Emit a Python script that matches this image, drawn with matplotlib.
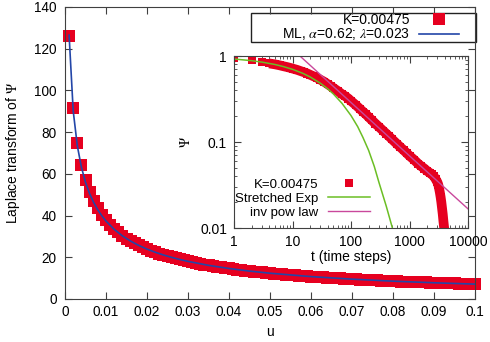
import numpy as np
import matplotlib
matplotlib.use("Agg")
import matplotlib.pyplot as plt
from matplotlib.patches import Rectangle

plt.rcParams['font.family'] = ['Liberation Sans', 'DejaVu Sans']
plt.rcParams['mathtext.fontset'] = 'stix'

# ---------------- data ----------------
# main panel: Laplace transform of Psi, K=0.00475
u = np.round(np.arange(1, 101) * 0.001, 3)
lapl = [126.3, 91.6, 75.0, 64.4, 57.2, 51.4, 47.0, 43.4, 40.4, 37.9,
        35.6, 33.6, 31.9, 30.4, 29.0, 27.8, 26.7, 25.7, 24.8, 23.9,
        23.14, 22.42, 21.74, 21.11, 20.52, 19.97, 19.44, 18.95, 18.48, 18.04,
        17.62, 17.22, 16.84, 16.48, 16.14, 15.81, 15.50, 15.19, 14.90, 14.63,
        14.36, 14.10, 13.86, 13.62, 13.39, 13.17, 12.96, 12.75, 12.56, 12.36,
        12.18, 12.00, 11.83, 11.66, 11.49, 11.33, 11.18, 11.03, 10.88, 10.74,
        10.60, 10.47, 10.34, 10.21, 10.09, 9.97, 9.85, 9.74, 9.62, 9.52,
        9.41, 9.31, 9.20, 9.10, 9.01, 8.91, 8.82, 8.73, 8.64, 8.55,
        8.47, 8.39, 8.30, 8.22, 8.15, 8.07, 7.99, 7.92, 7.85, 7.78,
        7.71, 7.64, 7.57, 7.50, 7.44, 7.38, 7.31, 7.25, 7.19, 7.13]

# Mittag-Leffler fit (alpha=0.62, lambda=0.023)
u_fit = [0.001, 0.002, 0.003, 0.004, 0.005, 0.006, 0.007, 0.008, 0.009, 0.010,
         0.012, 0.014, 0.016, 0.018, 0.020, 0.022, 0.024, 0.026, 0.028, 0.030,
         0.035, 0.040, 0.045, 0.050, 0.060, 0.070, 0.080, 0.090, 0.100]
ml_fit = [126.5, 90.2, 73.5, 63.2, 55.95, 50.5, 46.24, 42.75, 39.85, 37.38,
          33.39, 30.27, 27.76, 25.68, 23.92, 22.42, 21.11, 19.97, 18.95, 18.04,
          16.14, 14.63, 13.39, 12.36, 10.74, 9.52, 8.55, 7.78, 7.13]

# inset: survival Psi(t)
t_data = [1, 2, 3, 4, 5, 6, 7, 8, 9, 10, 12, 14, 16, 18, 20, 23, 26, 30, 35, 40,
          45, 50, 60, 70, 80, 90, 100, 120, 140, 160, 180, 200, 230, 260, 300,
          350, 400, 450, 500, 600, 700, 800, 900, 1000, 1200, 1400, 1600, 1800,
          2000, 2200, 2400, 2600, 2800, 3000, 3100, 3200, 3300, 3400, 3500,
          3600, 3700, 3800, 3900, 4000]
psi_data = [0.95, 0.89, 0.85, 0.82, 0.80, 0.78, 0.76, 0.745, 0.73, 0.715,
            0.69, 0.665, 0.645, 0.625, 0.605, 0.58, 0.56, 0.53, 0.50, 0.47,
            0.445, 0.425, 0.39, 0.36, 0.34, 0.32, 0.30, 0.27, 0.245, 0.225,
            0.21, 0.195, 0.178, 0.164, 0.15, 0.136, 0.125, 0.116, 0.108,
            0.096, 0.087, 0.080, 0.074, 0.069, 0.062, 0.056, 0.052, 0.049,
            0.046, 0.044, 0.042, 0.040, 0.037, 0.034, 0.032, 0.029, 0.026,
            0.023, 0.020, 0.017, 0.0145, 0.012, 0.0102, 0.0088]

t_sexp = [1, 2, 3, 5, 7, 10, 15, 20, 30, 40, 50, 70, 100, 130, 160, 200, 250,
          300, 400, 500, 520]
psi_sexp = [0.923, 0.882, 0.849, 0.797, 0.753, 0.700, 0.629, 0.571, 0.482,
            0.415, 0.362, 0.282, 0.203, 0.151, 0.113, 0.080, 0.052, 0.034,
            0.018, 0.0105, 0.0095]

t_pow = [13.4, 100, 1000, 10000]
psi_pow = [1.0, 0.288, 0.069, 0.0167]

red = '#E60020'
blue = '#2346A8'
green = '#6BBE24'
pink = '#C9489C'
spine_col = '#404040'

# ---------------- main panel ----------------
fig = plt.figure(figsize=(4.9, 3.42), dpi=100)
ax = fig.add_axes([65 / 490, 43 / 342, 410 / 490, 292 / 342])

ax.plot(u, lapl, 's', color=red, markersize=9.2, markeredgewidth=0,
        clip_on=False, label='K=0.00475')
ax.plot(u_fit, ml_fit, '-', color=blue, lw=1.2, clip_on=False,
        label=r'ML, $\alpha$=0.62; $\lambda$=0.023')

ax.set_xlim(0, 0.1)
ax.set_ylim(0, 140)
ax.set_xticks(np.round(np.arange(0, 0.101, 0.01), 2))
ax.set_xticklabels(['0', '0.01', '0.02', '0.03', '0.04', '0.05', '0.06',
                    '0.07', '0.08', '0.09', '0.1'])
ax.set_yticks(range(0, 141, 20))
ax.tick_params(direction='in', top=True, right=True, length=5,
               labelsize=9.8, color=spine_col)
ax.tick_params(axis='x', pad=4)
ax.tick_params(axis='y', pad=6)
for s in ax.spines.values():
    s.set_color(spine_col)
ax.set_xlabel('u', fontsize=10, labelpad=5)
ax.set_ylabel(r'Laplace transform of $\Psi$', fontsize=10, labelpad=9)

leg = ax.legend(loc='upper right', bbox_to_anchor=(0.961, 0.979),
                markerfirst=False, frameon=False, fontsize=10,
                handlelength=2.9, handletextpad=0.6, labelspacing=-0.05,
                borderpad=0, borderaxespad=0)
# gnuplot-style key box
ax.add_patch(Rectangle((0.4537, 0.880), 0.549, 0.0993, transform=ax.transAxes,
                       fill=False, ec='#222222', lw=1.0, clip_on=False))

# ---------------- inset ----------------
ins = fig.add_axes([234 / 490, 114 / 342, 234 / 490, 172 / 342])
ins.plot(t_data[3:], psi_data[3:], '-', color=red, lw=7,
         solid_capstyle='butt')
ins.plot(t_data, psi_data, 's', color=red, markersize=5.5, markeredgewidth=0,
         label='K=0.00475')
ins.plot(t_sexp, psi_sexp, '-', color=green, lw=1.1, label='Stretched Exp')
ins.plot(t_pow, psi_pow, '-', color=pink, lw=1.0, label='inv pow law')

ins.set_xscale('log')
ins.set_yscale('log')
ins.set_xlim(1, 10000)
ins.set_ylim(0.01, 1)
ins.set_xticks([1, 10, 100, 1000, 10000])
ins.set_xticklabels(['1', '10', '100', '1000', '10000'])
ins.set_yticks([0.01, 0.1, 1])
ins.set_yticklabels(['0.01', '0.1', '1'])
ins.tick_params(which='both', direction='in', top=True, right=True,
                labelsize=10, color=spine_col)
ins.tick_params(which='major', length=5, pad=5)
ins.tick_params(which='minor', length=2.5)
for s in ins.spines.values():
    s.set_color(spine_col)
ins.set_xlabel('t (time steps)', fontsize=10, labelpad=1)
ins.set_ylabel(r'$\Psi$', fontsize=10, labelpad=5)

ileg = ins.legend(loc='lower left', bbox_to_anchor=(0.0, 0.047),
                  markerfirst=False, frameon=False, fontsize=9.5,
                  handlelength=3.2, handletextpad=0.7, labelspacing=0.12,
                  borderpad=0.1, borderaxespad=0, numpoints=1)

fig.savefig('out.png', dpi=100)
